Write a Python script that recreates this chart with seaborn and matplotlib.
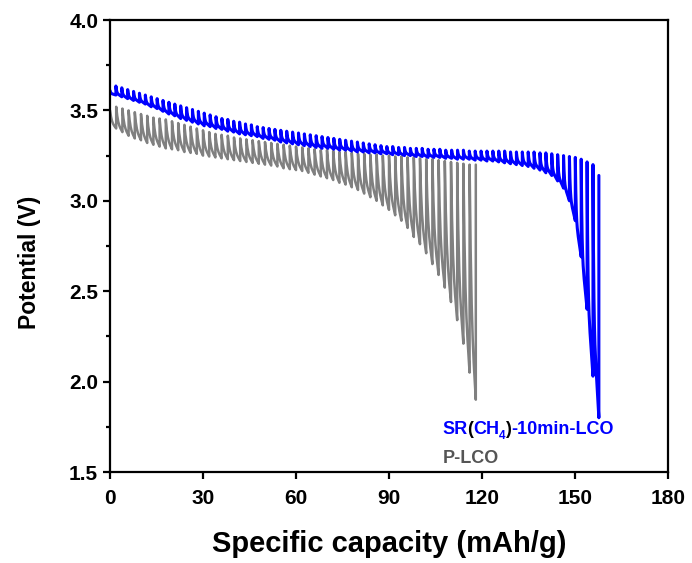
import numpy as np
import pandas as pd
import matplotlib
matplotlib.use("Agg")
import matplotlib.pyplot as plt
from matplotlib.ticker import MultipleLocator
import seaborn as sns

# ---------------- data ----------------
sample_names = ["P-LCO", "SR(CH4)-10min-LCO"]
sample_colors = ["#808080", "#0000FF"]

# P-LCO: constant capacity per pulse (mAh/g)
p_step = 2.0
# relaxed potential at the start of every pulse (+ final rest)
p_tops = [3.50, 3.52, 3.51, 3.50, 3.49, 3.48, 3.47, 3.46, 3.455, 3.45,
          3.44, 3.43, 3.42, 3.41, 3.40, 3.39, 3.38, 3.37, 3.365, 3.36,
          3.35, 3.345, 3.34, 3.335, 3.33, 3.325, 3.32, 3.315, 3.31, 3.305,
          3.30, 3.295, 3.29, 3.285, 3.28, 3.28, 3.275, 3.27, 3.27, 3.265,
          3.26, 3.26, 3.255, 3.255, 3.25, 3.25, 3.245, 3.245, 3.24, 3.24,
          3.235, 3.23, 3.23, 3.225, 3.22, 3.215, 3.21, 3.205, 3.20, 3.20]
# potential at the end of every pulse
p_bottoms = [3.40, 3.38, 3.36, 3.345, 3.335, 3.32, 3.31, 3.30, 3.29, 3.285,
             3.28, 3.27, 3.265, 3.26, 3.25, 3.245, 3.24, 3.235, 3.23, 3.225,
             3.22, 3.215, 3.21, 3.205, 3.20, 3.195, 3.19, 3.18, 3.175, 3.17,
             3.165, 3.155, 3.145, 3.135, 3.125, 3.115, 3.10, 3.09, 3.075, 3.06,
             3.04, 3.02, 3.00, 2.975, 2.95, 2.92, 2.89, 2.85, 2.80, 2.76,
             2.71, 2.65, 2.59, 2.52, 2.44, 2.34, 2.21, 2.05, 1.90]

# SR(CH4)-10min-LCO
sr_step = 1.9
sr_tops = [3.61, 3.635, 3.625, 3.615, 3.605, 3.595, 3.585, 3.575, 3.565, 3.555,
           3.545, 3.535, 3.525, 3.515, 3.505, 3.495, 3.485, 3.475, 3.465, 3.455,
           3.45, 3.44, 3.435, 3.425, 3.42, 3.41, 3.405, 3.40, 3.395, 3.39,
           3.385, 3.38, 3.375, 3.37, 3.365, 3.36, 3.355, 3.35, 3.345, 3.34,
           3.335, 3.33, 3.325, 3.32, 3.315, 3.31, 3.305, 3.30, 3.30, 3.295,
           3.295, 3.29, 3.29, 3.29, 3.285, 3.285, 3.285, 3.28, 3.28, 3.28,
           3.28, 3.275, 3.275, 3.275, 3.275, 3.275, 3.275, 3.275, 3.27, 3.27,
           3.27, 3.27, 3.27, 3.265, 3.265, 3.26, 3.255, 3.25, 3.245, 3.24,
           3.23, 3.215, 3.20, 3.14]
sr_bottoms = [3.585, 3.575, 3.565, 3.555, 3.545, 3.535, 3.52, 3.51, 3.495, 3.48,
              3.47, 3.455, 3.445, 3.435, 3.425, 3.415, 3.41, 3.40, 3.395, 3.385,
              3.38, 3.37, 3.365, 3.36, 3.355, 3.345, 3.34, 3.335, 3.325, 3.32,
              3.315, 3.31, 3.305, 3.30, 3.295, 3.29, 3.29, 3.285, 3.28, 3.28,
              3.275, 3.27, 3.27, 3.265, 3.265, 3.26, 3.26, 3.255, 3.255, 3.25,
              3.25, 3.245, 3.245, 3.24, 3.24, 3.24, 3.235, 3.235, 3.23, 3.23,
              3.23, 3.225, 3.225, 3.22, 3.22, 3.215, 3.21, 3.205, 3.20, 3.195,
              3.19, 3.18, 3.17, 3.155, 3.14, 3.11, 3.07, 3.00, 2.89, 2.69,
              2.40, 2.03, 1.80]

x_ticks = [0, 30, 60, 90, 120, 150, 180]
y_ticks = [1.5, 2.0, 2.5, 3.0, 3.5, 4.0]
x_label = "Specific capacity (mAh/g)"
y_label = "Potential (V)"


def gitt_path(step, tops, bottoms, name, fast=0.5, p=4.0, n=13):
    """Polyline of a GITT discharge: each pulse falls from its relaxed
    potential to its end potential (quick drop + steady decline), then
    rests (vertical jump)."""
    s = np.linspace(0.0, 1.0, n)
    g = fast * (1.0 - (1.0 - s) ** p) + (1.0 - fast) * s
    q, v = [], []
    for i, (t, b) in enumerate(zip(tops[:-1], bottoms)):
        q.extend(i * step + s * step)
        v.extend(t - (t - b) * g)
    q.append(len(bottoms) * step)
    v.append(tops[-1])
    return pd.DataFrame({"capacity": q, "potential": v, "sample": name})


frames = [gitt_path(p_step, p_tops, p_bottoms, sample_names[0], fast=0.55, p=4),
          gitt_path(sr_step, sr_tops, sr_bottoms, sample_names[1], fast=0.6, p=8)]

# ---------------- figure ----------------
sns.set_theme(style="ticks")
plt.rcParams["font.family"] = ["Liberation Sans", "DejaVu Sans"]
plt.rcParams["font.weight"] = "bold"
for k in ["text.color", "axes.labelcolor", "xtick.color", "ytick.color",
          "axes.edgecolor"]:
    plt.rcParams[k] = "black"

fig = plt.figure(figsize=(6.92, 5.63), dpi=100)
ax = fig.add_axes([110 / 692, 1 - 472 / 563, 558 / 692, 452 / 563])

widths = [1.8, 2.2]
for df, col, lw in zip(frames, sample_colors, widths):
    sns.lineplot(data=df, x="capacity", y="potential", sort=False,
                 estimator=None, color=col, linewidth=lw, ax=ax, legend=False)

ax.set_xlim(0, 180)
ax.set_ylim(1.5, 4.0)
ax.set_xticks(x_ticks)
ax.set_yticks(y_ticks)
ax.set_yticklabels([f"{t:.1f}" for t in y_ticks])
ax.yaxis.set_minor_locator(MultipleLocator(0.25))
ax.tick_params(axis="both", which="major", direction="out", length=5,
               width=1.6, labelsize=15, color="black", labelcolor="black")
ax.tick_params(axis="x", which="major", pad=7)
ax.tick_params(axis="y", which="minor", direction="out", length=3, width=1.6)
for lab in ax.get_xticklabels() + ax.get_yticklabels():
    lab.set_fontweight("bold")
for sp in ax.spines.values():
    sp.set_visible(True)
    sp.set_linewidth(1.6)
    sp.set_color("black")

ax.set_xlabel(x_label, fontsize=21, fontweight="bold")
ax.set_ylabel(y_label, fontsize=16.5, fontweight="bold")
ax.xaxis.set_label_coords(0.5, (472 - 530) / 452)
ax.yaxis.set_label_coords((41 - 110) / 558, (472 - 262) / 452)

# ---------------- legend as coloured text ----------------
fs = 13
t0 = ax.text(107.3, 1.69, "SR", color=sample_colors[1], fontsize=fs,
             fontweight="bold", va="bottom", ha="left")
pieces = [("(", "black", fs, 0, -0.6), ("CH", sample_colors[1], fs, 0, 0.0),
          ("4", sample_colors[1], fs * 0.65, -3, 0.0),
          (")", "black", fs, 0, 0.0),
          ("-10min-LCO", sample_colors[1], fs, 0, 0.0)]
prev = t0
for txt, col, size, dy, dx in pieces:
    prev = ax.annotate(txt, xy=(1, 0), xycoords=prev, xytext=(dx, dy),
                       textcoords="offset points", color=col, fontsize=size,
                       fontweight="bold", va="bottom", ha="left")
    if dy:
        prev = ax.annotate("", xy=(1, 0), xycoords=prev, xytext=(0, -dy),
                           textcoords="offset points", fontsize=fs,
                           va="bottom", ha="left")
ax.text(107.3, 1.525, "P-LCO", color="#555555", fontsize=fs,
        fontweight="bold", va="bottom", ha="left")

fig.savefig("out.png", dpi=100)
